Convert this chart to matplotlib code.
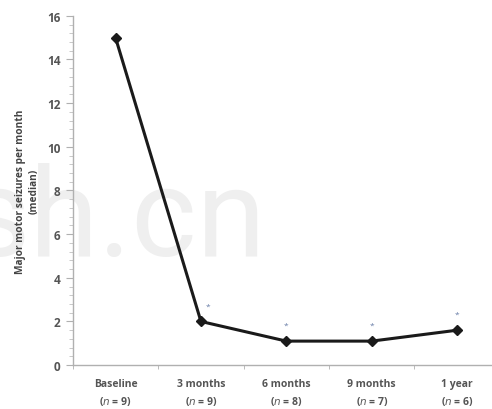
import matplotlib
matplotlib.use("Agg")
import matplotlib.pyplot as plt
from matplotlib.ticker import MultipleLocator, FixedLocator

categories = ["Baseline", "3 months", "6 months", "9 months", "1 year"]
n_values = [9, 9, 8, 7, 6]
median_seizures = [15, 2, 1.1, 1.1, 1.6]
significant = [False, True, True, True, True]

plt.rcParams["font.family"] = ["Open Sans", "DejaVu Sans"]

fig = plt.figure(figsize=(4.92, 4.10), dpi=100)
ax = fig.add_axes([0.148, 0.107, 0.868, 0.852])
ax.patch.set_alpha(0)

# faint watermark behind the data
fig.text(266 / 492, 1 - 256 / 410, "sh.cn", ha="right", va="baseline",
         fontsize=90, color="#efefef", zorder=-1, family="Roboto")

x = list(range(len(categories)))
ax.plot(x, median_seizures, color="#1a1a1a", lw=2.2, marker="D", ms=5,
        mfc="#1a1a1a", mec="#1a1a1a", zorder=3)

for xi, yi, sig in zip(x, median_seizures, significant):
    if sig:
        ax.text(xi + 0.08 if xi == 1 else xi, yi + 0.55, "*", ha="center",
                va="bottom", fontsize=6, color="#6a7fa8")

ax.set_xlim(-0.5, 4.5)
ax.set_ylim(0, 16)
ax.yaxis.set_major_locator(MultipleLocator(2))
ax.yaxis.set_minor_locator(MultipleLocator(0.4))
ax.xaxis.set_major_locator(FixedLocator(x))
ax.xaxis.set_minor_locator(FixedLocator([i + 0.5 for i in range(-1, 5)]))

labels = [f"{c}\n($\\it{{n}}$ = {n})" for c, n in zip(categories, n_values)]
ax.set_xticklabels(labels, fontsize=7.5, color="#555555", fontweight="bold",
                   linespacing=1.5)
ax.tick_params(axis="x", which="major", length=0, pad=9)
ax.tick_params(axis="x", which="minor", length=3, color="#b0b0b0", direction="out")
ax.tick_params(axis="y", which="major", length=5, color="#b0b0b0",
               labelsize=8.5, labelcolor="#555555", pad=4)
ax.tick_params(axis="y", which="minor", length=3, color="#c0c0c0")
for lab in ax.get_yticklabels():
    lab.set_fontweight("bold")

for s in ("top", "right"):
    ax.spines[s].set_visible(False)
for s in ("left", "bottom"):
    ax.spines[s].set_color("#b0b0b0")
    ax.spines[s].set_linewidth(1.0)

ax.set_ylabel("Major motor seizures per month\n(median)", fontsize=7.3,
              color="#444444", fontweight="bold", labelpad=5, linespacing=1.4)

fig.savefig("out.png", dpi=100)
